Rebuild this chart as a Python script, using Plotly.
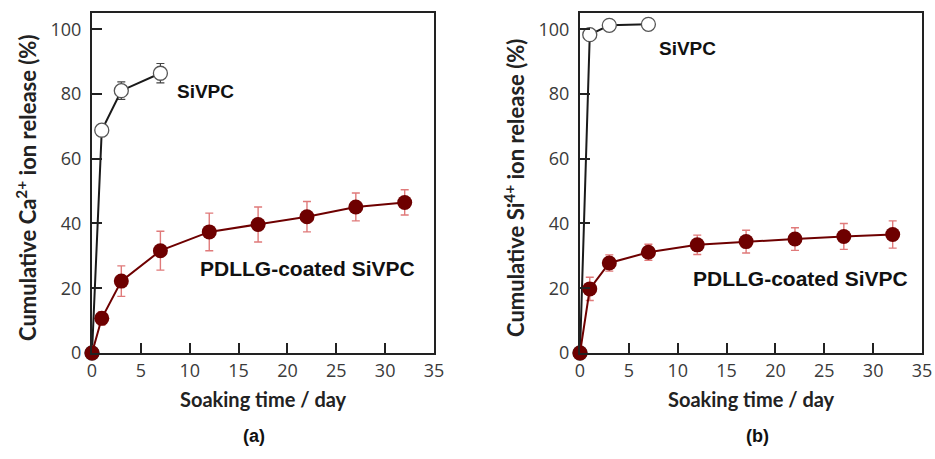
import plotly.graph_objects as go

# ---- data ----
days_sivpc = [0, 1, 3, 7]
days_coated = [0, 1, 3, 7, 12, 17, 22, 27, 32]

ca_sivpc = [0, 68.8, 81.0, 86.4]
ca_sivpc_err = [0, 0.8, 2.7, 3.0]
ca_coated = [0, 10.7, 22.2, 31.6, 37.4, 39.7, 42.1, 45.1, 46.5]
ca_coated_err = [0, 2.0, 4.7, 6.0, 5.8, 5.4, 4.7, 4.3, 3.9]

si_sivpc = [0, 98.3, 101.2, 101.5]
si_sivpc_err = [0, 0.5, 0.5, 0.5]
si_coated = [0, 19.8, 27.8, 31.1, 33.4, 34.4, 35.2, 36.0, 36.6]
si_coated_err = [0, 3.6, 2.5, 2.5, 3.0, 3.5, 3.5, 4.0, 4.2]

x_ticks = [0, 5, 10, 15, 20, 25, 30, 35]
y_ticks = [0, 20, 40, 60, 80, 100]

W, H = 935, 459
dark_red = "#6e0000"
err_red = "#e07a7a"

fig = go.Figure()

def add_panel(xa, ya, sivpc, sivpc_err, coated, coated_err):
    fig.add_trace(go.Scatter(
        x=days_sivpc, y=sivpc, xaxis=xa, yaxis=ya, mode="lines+markers",
        line=dict(color="#1a1a1a", width=2),
        marker=dict(symbol="circle", size=14, color="white",
                    line=dict(color="#555555", width=1.3)),
        error_y=dict(type="data", array=sivpc_err, color="#444444",
                     thickness=1.2, width=4),
        cliponaxis=False, showlegend=False))
    fig.add_trace(go.Scatter(
        x=days_coated, y=coated, xaxis=xa, yaxis=ya, mode="lines+markers",
        line=dict(color=dark_red, width=2),
        marker=dict(symbol="circle", size=15, color=dark_red),
        error_y=dict(type="data", array=coated_err, color=err_red,
                     thickness=1.4, width=4),
        cliponaxis=False, showlegend=False))

add_panel("x", "y", ca_sivpc, ca_sivpc_err, ca_coated, ca_coated_err)
add_panel("x2", "y2", si_sivpc, si_sivpc_err, si_coated, si_coated_err)

ydom = [1 - 353 / H, 1 - 13 / H]
tickfont = dict(family="Open Sans", size=18, color="#3a3a3a")

def xaxis_cfg(dom, anchor):
    return dict(domain=dom, range=[0, 35], tickvals=x_ticks, ticks="inside",
                ticklen=10, tickwidth=1.5, tickcolor="#222", showline=True,
                linecolor="#222", linewidth=2, mirror=True, showgrid=False,
                zeroline=False, tickfont=tickfont, anchor=anchor,
                automargin=False)

def yaxis_cfg(anchor):
    return dict(domain=ydom, range=[0, 105], tickvals=y_ticks, ticks="inside",
                ticklen=10, tickwidth=1.5, tickcolor="#222", showline=True,
                linecolor="#222", linewidth=2, mirror=True, showgrid=False,
                zeroline=False, tickfont=tickfont, anchor=anchor,
                automargin=False, ticklabelstandoff=5)

fig.update_layout(
    width=W, height=H, margin=dict(l=0, r=0, t=0, b=0),
    plot_bgcolor="white", paper_bgcolor="white",
    xaxis=xaxis_cfg([92 / W, 434 / W], "y"),
    yaxis=yaxis_cfg("x"),
    xaxis2=xaxis_cfg([580 / W, 922 / W], "y2"),
    yaxis2=yaxis_cfg("x2"),
)

# axis titles
xtfont = dict(family="Lato", size=20, color="#222222")
ytfont = dict(family="Lato", size=22, color="#222222")
for cx in (263, 751):
    fig.add_annotation(xref="paper", yref="paper", x=cx / W, y=1 - 399 / H,
                       text="<b>Soaking time / day</b>", showarrow=False,
                       font=xtfont, xanchor="center", yanchor="middle")
fig.add_annotation(xref="paper", yref="paper", x=27 / W, y=1 - 188 / H,
                   text="<b>Cumulative Ca<sup>2+</sup> ion release (%)</b>",
                   textangle=-90, showarrow=False, font=ytfont,
                   xanchor="center", yanchor="middle")
fig.add_annotation(xref="paper", yref="paper", x=515 / W, y=1 - 188 / H,
                   text="<b>Cumulative Si<sup>4+</sup> ion release (%)</b>",
                   textangle=-90, showarrow=False, font=ytfont,
                   xanchor="center", yanchor="middle")

anns = [
    dict(x=205 / W, y=1 - 91 / H, text="<b>SiVPC</b>", size=19),
    dict(x=307 / W, y=1 - 268 / H, text="<b>PDLLG-coated SiVPC</b>", size=21),
    dict(x=687 / W, y=1 - 49 / H, text="<b>SiVPC</b>", size=19),
    dict(x=800 / W, y=1 - 278 / H, text="<b>PDLLG-coated SiVPC</b>", size=21),
]
for a in anns:
    fig.add_annotation(xref="paper", yref="paper", showarrow=False,
                       xanchor="center", yanchor="middle",
                       font=dict(family="Liberation Sans", size=a["size"], color="#111111"),
                       x=a["x"], y=a["y"], text=a["text"])

labfont = dict(family="Liberation Sans", size=18, color="#111111")
fig.add_annotation(xref="paper", yref="paper", x=254 / W, y=1 - 436 / H,
                   text="<b>(a)</b>", showarrow=False, font=labfont,
                   xanchor="center", yanchor="middle")
fig.add_annotation(xref="paper", yref="paper", x=757 / W, y=1 - 436 / H,
                   text="<b>(b)</b>", showarrow=False, font=labfont,
                   xanchor="center", yanchor="middle")

fig.write_html("out.html")
